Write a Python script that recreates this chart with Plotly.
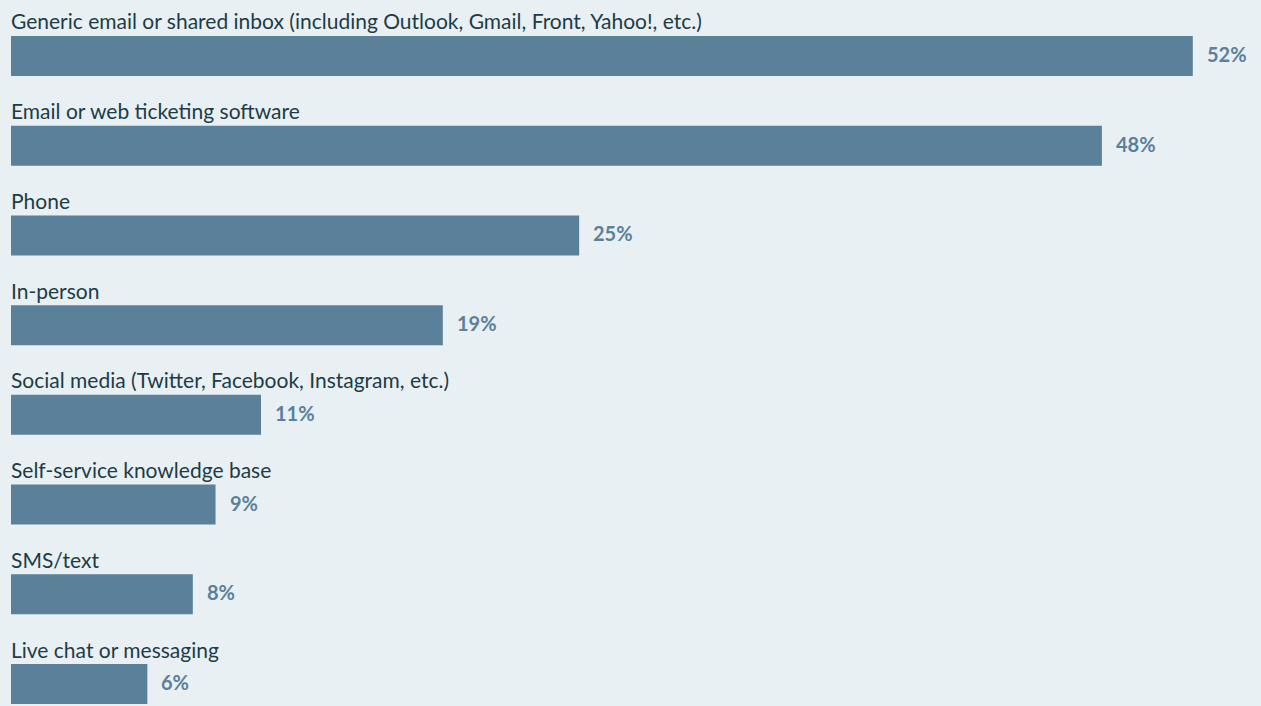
import plotly.graph_objects as go

categories = [
    "Generic email or shared inbox (including Outlook, Gmail, Front, Yahoo!, etc.)",
    "Email or web ticketing software",
    "Phone",
    "In-person",
    "Social media (Twitter, Facebook, Instagram, etc.)",
    "Self-service knowledge base",
    "SMS/text",
    "Live chat or messaging",
]
values = [52, 48, 25, 19, 11, 9, 8, 6]
value_labels = [f"{v}%" for v in values]

BG = "#e8f0f4"
BAR = "#5a809a"
TXT = "#1d3c45"
FONT = "Lato"

pos = list(range(len(categories)))

fig = go.Figure()
fig.add_trace(go.Bar(
    x=values, y=pos, orientation="h", width=0.446,
    marker=dict(color=BAR, line=dict(width=0)),
    hoverinfo="skip",
))

annotations = []
for c, p in zip(categories, pos):
    annotations.append(dict(
        x=0, y=p - 0.39, xref="x", yref="y", text=c, showarrow=False,
        xanchor="left", yanchor="middle", xshift=-2,
        font=dict(family=FONT, size=21, color=TXT),
    ))
for v, t, p in zip(values, value_labels, pos):
    annotations.append(dict(
        x=v, y=p, xref="x", yref="y", text=t, showarrow=False,
        xanchor="left", yanchor="middle", xshift=12, yshift=2,
        font=dict(family=FONT, size=20, color=BAR, weight="bold"),
    ))

fig.update_layout(
    width=1261, height=706,
    margin=dict(l=11, r=0, t=0, b=0),
    paper_bgcolor=BG, plot_bgcolor=BG,
    showlegend=False,
    annotations=annotations,
    xaxis=dict(range=[0, 55], visible=False, fixedrange=True),
    yaxis=dict(range=[7.245, -0.624], visible=False, fixedrange=True),
)

fig.write_html("out.html")
